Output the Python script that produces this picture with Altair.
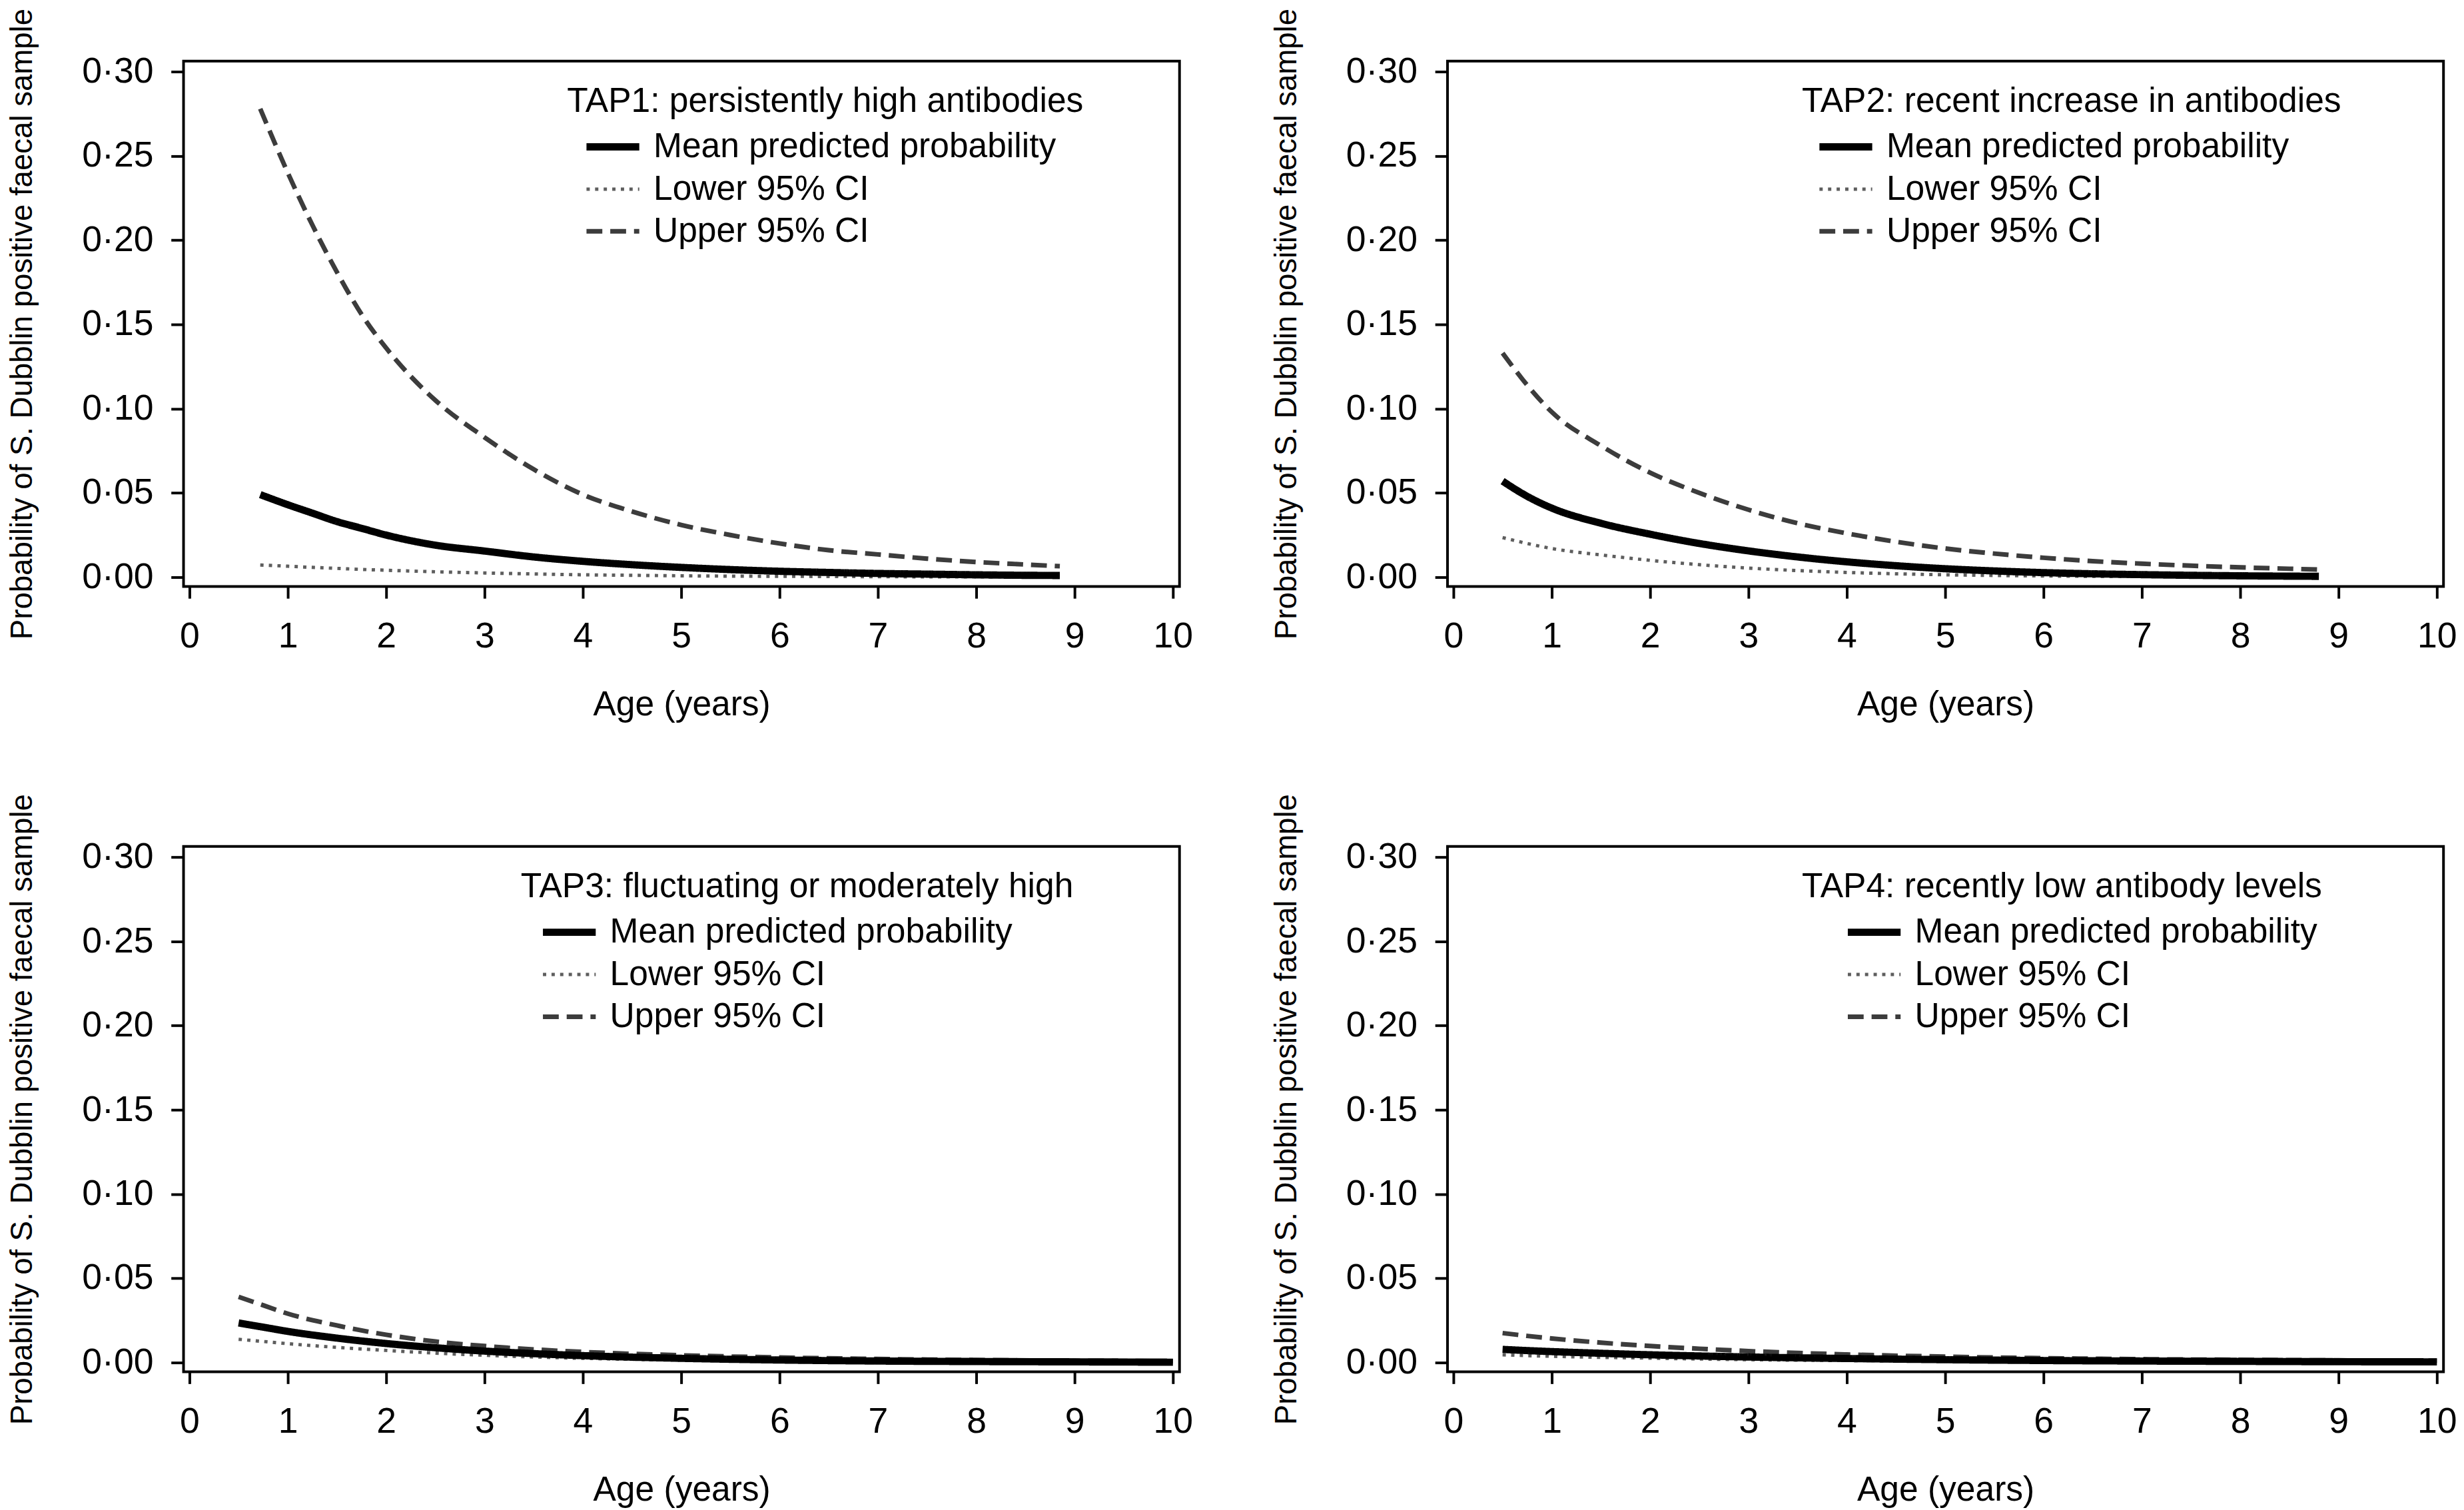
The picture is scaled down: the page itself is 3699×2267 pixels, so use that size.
import altair as alt
import pandas as pd

SERIES = ["Mean predicted probability", "Lower 95% CI", "Upper 95% CI"]
COLORS = ["#000000", "#5e5e5e", "#3c3c3c"]
DASHES = [[1, 0], [5, 8], [24, 12]]
WIDTHS = [11, 5, 7]

# TAP1
tap1_age = [0.72, 1.0, 1.25, 1.5, 1.75, 2.0, 2.5, 3.0, 3.5, 4.0, 4.5, 5.0, 5.5, 6.0, 6.5, 7.0, 7.5, 8.0, 8.5, 8.85]
tap1_upper = [0.278, 0.240, 0.209, 0.181, 0.156, 0.136, 0.105, 0.083, 0.064, 0.049, 0.039, 0.031, 0.025, 0.020, 0.016, 0.0135, 0.011, 0.009, 0.0075, 0.0065]
tap1_mean = [0.049, 0.043, 0.038, 0.033, 0.029, 0.025, 0.019, 0.0155, 0.012, 0.0094, 0.0074, 0.0058, 0.0045, 0.0035, 0.0028, 0.0022, 0.0018, 0.0014, 0.0011, 0.001]
tap1_lower = [0.0072, 0.0065, 0.0058, 0.0052, 0.0046, 0.0041, 0.0032, 0.0025, 0.0019, 0.0014, 0.0011, 0.0008, 0.0006, 0.0005, 0.0004, 0.0003, 0.0002, 0.0002, 0.0001, 0.0001]

# TAP2
tap2_age = [0.5, 0.75, 1.0, 1.5, 2.0, 2.5, 3.0, 3.5, 4.0, 4.5, 5.0, 5.5, 6.0, 6.5, 7.0, 7.5, 8.0, 8.5, 8.8]
tap2_upper = [0.133, 0.114, 0.098, 0.078, 0.062, 0.050, 0.040, 0.032, 0.026, 0.021, 0.017, 0.014, 0.0115, 0.0095, 0.008, 0.0068, 0.0058, 0.005, 0.0045]
tap2_mean = [0.057, 0.048, 0.041, 0.032, 0.0255, 0.020, 0.0156, 0.012, 0.0091, 0.0068, 0.005, 0.0037, 0.0027, 0.002, 0.0015, 0.0011, 0.0008, 0.0006, 0.0005]
tap2_lower = [0.0235, 0.020, 0.017, 0.0132, 0.010, 0.0074, 0.0054, 0.0039, 0.0028, 0.002, 0.0014, 0.001, 0.0007, 0.0005, 0.0004, 0.0003, 0.0002, 0.00015, 0.0001]

# TAP3
tap3_age = [0.5, 0.75, 1.0, 1.5, 2.0, 2.5, 3.0, 3.5, 4.0, 5.0, 6.0, 7.0, 8.0, 9.0, 10.0]
tap3_upper = [0.039, 0.034, 0.029, 0.022, 0.0165, 0.0125, 0.0098, 0.0078, 0.0063, 0.0043, 0.003, 0.0021, 0.0015, 0.0011, 0.0008]
tap3_mean = [0.0235, 0.021, 0.0185, 0.0145, 0.0113, 0.0088, 0.0068, 0.0053, 0.0041, 0.0025, 0.0015, 0.0009, 0.0006, 0.0004, 0.0002]
tap3_lower = [0.0138, 0.0125, 0.0112, 0.009, 0.0072, 0.0056, 0.0043, 0.0033, 0.0025, 0.0015, 0.0009, 0.0005, 0.0003, 0.0002, 0.0001]

# TAP4
tap4_age = [0.5, 0.75, 1.0, 1.5, 2.0, 2.5, 3.0, 3.5, 4.0, 5.0, 6.0, 7.0, 8.0, 9.0, 10.0]
tap4_upper = [0.0175, 0.0158, 0.0143, 0.0118, 0.0098, 0.0082, 0.0068, 0.0057, 0.0048, 0.0035, 0.0026, 0.002, 0.0016, 0.0013, 0.0011]
tap4_mean = [0.0078, 0.0071, 0.0065, 0.0055, 0.0046, 0.0039, 0.0033, 0.0028, 0.0024, 0.0017, 0.0012, 0.0009, 0.0007, 0.0005, 0.0004]
tap4_lower = [0.0046, 0.0041, 0.0037, 0.0031, 0.0026, 0.0021, 0.0017, 0.0014, 0.0012, 0.0008, 0.0005, 0.0004, 0.0003, 0.0002, 0.00015]

TITLES = [
    "TAP1: persistently high antibodies",
    "TAP2: recent increase in antibodies",
    "TAP3: fluctuating or moderately high",
    "TAP4: recently low antibody levels",
]
X_TICKS = list(range(0, 11))
Y_TICKS = [0.0, 0.05, 0.10, 0.15, 0.20, 0.25, 0.30]

FONT = "Liberation Sans"
PW, PH = 1509, 796


def panel(age, upper, mean, lower, title, lx, soff):
    rows = []
    for name, vals in [(SERIES[2], upper), (SERIES[1], lower), (SERIES[0], mean)]:
        for a, v in zip(age, vals):
            rows.append({"age": a, "prob": v, "series": name})
    df = pd.DataFrame(rows)
    leg = alt.Legend(
        title=title, orient="none", legendX=lx, legendY=36,
        titleFontSize=52, titleFont=FONT, titleFontWeight="normal", titleColor="black",
        titleLimit=3000, titlePadding=16,
        labelFontSize=52, labelFont=FONT, labelColor="black", labelLimit=3000,
        labelOffset=16, symbolSize=6400, symbolType="stroke", symbolOffset=soff,
        padding=0, rowPadding=12, clipHeight=52,
    )
    enc = dict(
        x=alt.X("age:Q", scale=alt.Scale(domain=[-0.06, 10.067], nice=False, zero=False),
                axis=alt.Axis(values=X_TICKS, title="Age (years)", format="d",
                              labelFontSize=54, titleFontSize=52, tickSize=18,
                              labelPadding=31, titlePadding=51, labelFlush=False,
                              labelOverlap=False)),
        y=alt.Y("prob:Q", scale=alt.Scale(domain=[-0.0055, 0.3063], nice=False, zero=False),
                axis=alt.Axis(values=Y_TICKS, title="Probability of S. Dubblin positive faecal sample",
                              labelExpr="replace(format(datum.value, '.2f'), '.', '·')",
                              labelFontSize=54, titleFontSize=46, tickSize=19,
                              labelPadding=27, titlePadding=66, labelOverlap=False)),
        color=alt.Color("series:N", scale=alt.Scale(domain=SERIES, range=COLORS), legend=leg),
        strokeDash=alt.StrokeDash("series:N", scale=alt.Scale(domain=SERIES, range=DASHES), legend=leg),
        strokeWidth=alt.StrokeWidth("series:N", scale=alt.Scale(type="ordinal", domain=SERIES, range=WIDTHS), legend=leg),
    )
    base = alt.Chart(df).encode(**enc)
    layers = [
        base.transform_filter(alt.datum.series == s).mark_line(interpolate="monotone")
        for s in [SERIES[2], SERIES[1], SERIES[0]]
    ]
    return alt.layer(*layers).properties(width=PW, height=PH)


p1 = panel(tap1_age, tap1_upper, tap1_mean, tap1_lower, TITLES[0], 581, 24)
p2 = panel(tap2_age, tap2_upper, tap2_mean, tap2_lower, TITLES[1], 537, 21)
p3 = panel(tap3_age, tap3_upper, tap3_mean, tap3_lower, TITLES[2], 511, 28)
p4 = panel(tap4_age, tap4_upper, tap4_mean, tap4_lower, TITLES[3], 537, 64)

chart = alt.concat(p1, p2, p3, p4, columns=2, spacing={"row": 104, "column": 113}).resolve_scale(
    color="independent", strokeDash="independent", strokeWidth="independent"
).resolve_legend(
    color="independent", strokeDash="independent", strokeWidth="independent"
).properties(
    padding={"left": 0, "top": -9, "right": 0, "bottom": 0}
).configure(font=FONT).configure_view(
    stroke="black", strokeWidth=4
).configure_axis(
    domain=False, grid=False, tickColor="black", tickWidth=4,
    labelColor="black", titleColor="black", titleFontWeight="normal",
    labelFont=FONT, titleFont=FONT,
)

chart.save("out.html", embed_options={"renderer": "svg", "actions": False})
